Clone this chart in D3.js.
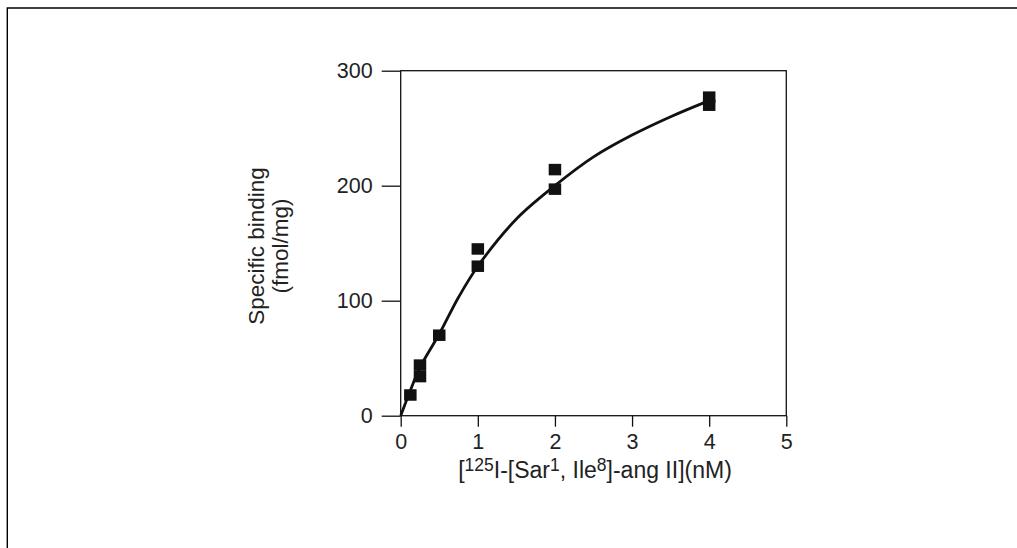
<!DOCTYPE html>
<html><head><meta charset="utf-8">
<script src="https://d3js.org/d3.v7.min.js"></script>
<style>html,body{margin:0;padding:0;background:#fff;}svg{display:block;}</style>
</head><body>
<script>
const pointX = [0.125, 0.25, 0.25, 0.5, 1, 1, 2, 2, 4, 4];
const pointY = [18, 44, 34, 70, 145, 130, 214, 197, 277, 270];
const curveX = [0, 0.125, 0.25, 0.5, 0.75, 1, 1.5, 2, 2.5, 3, 3.5, 4];
const curveY = [0, 22, 42, 71, 103, 130, 171, 200, 225, 244, 260, 274];
const xTicks = [0, 1, 2, 3, 4, 5];
const yTicks = [0, 100, 200, 300];

const W = 1017, H = 548;
const svg = d3.select("body").append("svg").attr("width", W).attr("height", H);
const font = "'Liberation Sans', Arial, sans-serif";

// outer frame
svg.append("path").attr("d", `M7.3,${H} L7.3,8 L${W},8`).attr("fill","none").attr("stroke","#000").attr("stroke-width",1.4);

const x = d3.scaleLinear().domain([0,5]).range([400.7, 786.3]);
const y = d3.scaleLinear().domain([0,300]).range([415.7, 70.7]);

// box
svg.append("rect").attr("x", x(0)).attr("y", y(300)).attr("width", x(5)-x(0)).attr("height", y(0)-y(300))
  .attr("fill","none").attr("stroke","#111").attr("stroke-width",1.3);

const xAxis = svg.append("g").attr("transform", `translate(0,${y(0)})`)
  .call(d3.axisBottom(x).tickValues(xTicks).tickSize(11).tickSizeOuter(0).tickPadding(7).tickFormat(d3.format("d")));
const yAxis = svg.append("g").attr("transform", `translate(${x(0)},0)`)
  .call(d3.axisLeft(y).tickValues(yTicks).tickSize(19).tickSizeOuter(0).tickPadding(9).tickFormat(d3.format("d")));
[xAxis, yAxis].forEach(a => {
  a.select(".domain").remove();
  a.selectAll("line").attr("stroke","#111").attr("stroke-width",1.3);
  a.selectAll("text").attr("font-family", font).attr("font-size", 21.5).attr("fill","#222");
});

// curve
const line = d3.line().x(d => x(d[0])).y(d => y(d[1])).curve(d3.curveCatmullRom);
svg.append("path").datum(curveX.map((v,i)=>[v, curveY[i]])).attr("d", line)
  .attr("fill","none").attr("stroke","#111").attr("stroke-width",2.8);

// points
const sw = 12.5, sh = 11.5;
svg.append("g").selectAll("rect").data(pointX.map((v,i)=>[v, pointY[i]])).join("rect")
  .attr("x", d => x(d[0]) - sw/2).attr("y", d => y(d[1]) - sh/2)
  .attr("width", sw).attr("height", sh).attr("fill","#111");

// y label
const yl = svg.append("text").attr("font-family", font).attr("font-size", 22.5).attr("fill","#222")
  .attr("text-anchor","middle").attr("transform","translate(0,246) rotate(-90)");
yl.append("tspan").attr("x",0).attr("y",264).text("Specific binding");
yl.append("tspan").attr("x",0).attr("y",288).text("(fmol/mg)");

// x label
const xl = svg.append("text").attr("font-family", font).attr("font-size", 23).attr("fill","#222")
  .attr("text-anchor","middle").attr("x", 595).attr("y", 478);
xl.append("tspan").text("[");
xl.append("tspan").attr("font-size", 17.5).attr("dy", -7).text("125");
xl.append("tspan").attr("dy", 7).text("I-[Sar");
xl.append("tspan").attr("font-size", 17.5).attr("dy", -7).text("1");
xl.append("tspan").attr("dy", 7).text(", Ile");
xl.append("tspan").attr("font-size", 17.5).attr("dy", -7).text("8");
xl.append("tspan").attr("dy", 7).text("]-ang II](nM)");
</script>
</body></html>
